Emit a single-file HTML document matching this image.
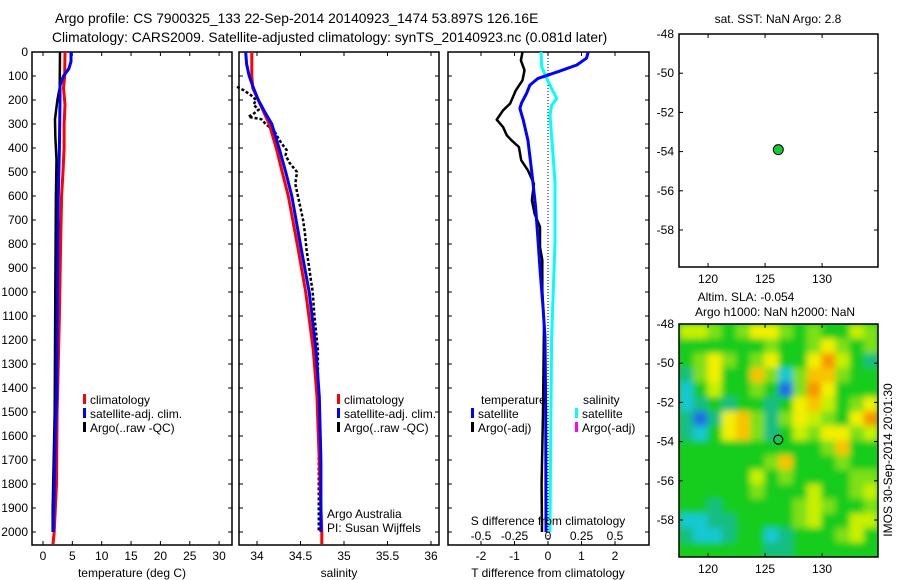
<!DOCTYPE html>
<html><head><meta charset="utf-8"><style>
html,body{margin:0;padding:0;background:#fff;}
svg{display:block;font-family:"Liberation Sans",sans-serif;}
text{fill:#000;}
</style></head><body>
<svg id="fig" width="900" height="580" viewBox="0 0 900 580" xmlns="http://www.w3.org/2000/svg">
<defs>
<filter id="blur" x="-5%" y="-5%" width="110%" height="110%"><feGaussianBlur stdDeviation="3.2" edgeMode="duplicate"/></filter>
<clipPath id="mapclip"><rect x="679" y="324" width="199" height="233"/></clipPath>
</defs>
<text x="55" y="23" font-size="13.8" text-anchor="start">Argo profile: CS 7900325_133 22-Sep-2014 20140923_1474 53.897S 126.16E</text>
<text x="52" y="42" font-size="13.8" text-anchor="start">Climatology: CARS2009. Satellite-adjusted climatology: synTS_20140923.nc (0.081d later)</text>
<g id="layer"></g>
</svg>
<script>
// ---- data ----
const depthTicks=[0,100,200,300,400,500,600,700,800,900,1000,1100,1200,1300,1400,1500,1600,1700,1800,1900,2000];
const tempTicks=[0,5,10,15,20,25,30];
const salTicks=[34,34.5,35,35.5,36];
const salTickLabels=["34","34.5","35","35.5","36"];
const tdiffTicks=[-2,-1,0,1,2];
const sdiffTicks=[-0.5,-0.25,0,0.25,0.5];
const sdiffTickLabels=["-0.5","-0.25","0","0.25","0.5"];
const climT_d=[0,100,150,220,300,400,500,600,800,1100,1400,1500,1800,2000,2050];
const climT=[3.75,3.7,3.5,3.75,3.6,3.6,3.4,3.17,3.0,2.8,2.5,2.4,2.3,1.9,1.7];
const satT_d=[0,40,70,100,140,200,400,600,1000,1400,1600,2000];
const satT=[4.77,4.77,4.4,3.5,2.9,2.9,2.8,2.6,2.45,2.33,2.1,1.76];
const argoT_d=[0,150,200,280,350,450,600,1000,1500,1900,2000];
const argoT=[2.9,2.85,2.45,2.04,2.1,2.3,2.2,2.1,2.0,1.65,1.65];
const climS_d=[0,100,150,200,300,408,500,600,825,1000,1242,1437,1500,2000,2050];
const climS=[33.94,33.94,33.95,34.015,34.14,34.226,34.29,34.36,34.475,34.56,34.647,34.69,34.695,34.745,34.745];
const satS_d=[0,50,100,150,200,250,300,408,500,600,825,1000,1242,1437,1700,2000];
const satS=[33.87,33.88,33.91,33.96,34.015,34.09,34.17,34.26,34.33,34.40,34.51,34.6,34.678,34.716,34.735,34.735];
const argoS_d=[145,160,180,200,220,240,260,270,280,300,330,350,380,408,430,460,500,550,600,650,700,750,825,900,950,1000,1100,1242,1300,1400,1500,1600,1700,1800,1900,2000];
const argoS=[33.77,33.85,33.93,33.99,33.96,34.02,33.95,33.90,34.05,34.10,34.20,34.23,34.28,34.34,34.33,34.37,34.46,34.44,34.47,34.50,34.53,34.55,34.57,34.60,34.62,34.64,34.66,34.70,34.70,34.70,34.71,34.71,34.71,34.71,34.71,34.71];
const satDT_d=[0,26,54,82,110,138,172,213,235,283,367,505,645,783,922,1062,1187,1500,2000];
const satDT=[1.2,1.15,0.86,0.3,-0.3,-0.54,-0.64,-0.79,-0.84,-0.74,-0.6,-0.48,-0.37,-0.3,-0.23,-0.15,-0.09,-0.07,-0.06];
const satDS_d=[0,62,110,165,194,222,264,375,542,792,1195,1600,2000];
const satDS=[-0.052,-0.047,-0.01,0.038,0.065,0.027,0.015,0.03,0.052,0.052,0.027,0.02,0.015];
const argoDT_d=[0,35,76,118,160,215,243,282,313,347,368,396,451,493,549,618,674,729,813,868,993,1132,1500,1800,2000];
const argoDT=[-0.76,-0.81,-0.7,-0.76,-0.96,-1.13,-1.34,-1.53,-1.34,-1.23,-1.09,-0.87,-0.8,-0.6,-0.42,-0.48,-0.4,-0.24,-0.24,-0.17,-0.17,-0.12,-0.15,-0.19,-0.18];
const latTicks=[-48,-50,-52,-54,-56,-58];
const lonTicks=[120,125,130];
const argoLon=126.16, argoLat=-53.9;
const slaGrid=[
[5,5,4,3,4,6,6,4,3,4,3,3,5,4],
[3,3,3,3,3,3,4,3,3,4,6,4,3,4],
[3,4,6,4,3,4,6,3,3,6,8,5,3,2],
[2,4,6,3,3,7,4,1,4,7,7,4,3,3],
[1,3,5,3,3,4,3,0,4,8,6,3,3,3],
[1,2,3,2,3,3,2,3,6,7,5,3,4,6],
[2,0,2,6,7,4,2,4,6,5,4,3,6,8],
[2,1,3,6,7,4,2,3,5,4,6,6,4,5],
[3,3,3,3,3,3,3,3,3,3,4,7,3,3],
[3,3,3,3,3,3,4,7,3,3,3,4,3,3],
[3,3,3,3,3,5,3,4,3,3,3,3,4,4],
[3,3,3,3,3,4,3,3,3,5,3,3,4,5],
[3,3,2,3,3,3,3,3,4,5,4,3,3,4],
[1,1,2,2,3,3,3,3,4,5,3,3,5,5],
[2,1,1,2,3,3,1,2,3,3,3,4,5,3],
[3,3,3,3,3,3,2,2,3,3,3,3,3,3]];
const slaColors=["#1e6ee6","#14c8d2","#14be82","#16cc1e","#7ee014","#c8f000","#f2f000","#f8c400","#f89400"];

// ---- helpers ----
const NS="http://www.w3.org/2000/svg";
const layer=document.getElementById('layer');
function mk(tag,attrs,parent){const e=document.createElementNS(NS,tag);for(const k in attrs)e.setAttribute(k,attrs[k]);(parent||layer).appendChild(e);return e;}
function txt(x,y,s,size,anchor,parent){const t=mk('text',{x:x,y:y,'font-size':size||12,'text-anchor':anchor||'middle'},parent);t.textContent=s;return t;}
const TOP=52,BOT=545;
const yD=d=>TOP+d*0.24;
const P1={l:32,r:232,x:v=>43+v*5.87};
const P2={l:239,r:439,x:v=>257+(v-34)*87};
const P3={l:448,r:649,x:v=>548+v*33.5,xs:v=>548+v*134};

function frame(p,name){
  const g=mk('g',{});
  
  
  mk('rect',{x:p.l,y:TOP,width:p.r-p.l,height:BOT-TOP,fill:'#fff',stroke:'#000','stroke-width':1.5},g);
  depthTicks.forEach(d=>{mk('line',{x1:p.l,x2:p.l+4,y1:yD(d),y2:yD(d),stroke:'#000'},g);mk('line',{x1:p.r,x2:p.r-4,y1:yD(d),y2:yD(d),stroke:'#000'},g);});
  return g;
}
function line(ds,vs,fx,color,w,name,dash){
  const pts=ds.map((d,i)=>fx(vs[i]).toFixed(1)+','+yD(d).toFixed(1)).join(' ');
  const a={points:pts,fill:'none',stroke:color,'stroke-width':w,'stroke-linejoin':'round'};
  if(dash)a['stroke-dasharray']=dash;
  const e=mk('polyline',a);
  
  
  return e;
}
function legendEntry(x,y,color,label,name){
  const g=mk('g',{});
  
  
  mk('rect',{x:x,y:y-10,width:3,height:10,fill:color},g);
  txt(x+7,y,label,12,'start',g);
}

// ---- panel 1: temperature ----
frame(P1,'temperature-panel');
depthTicks.forEach(d=>{const t=txt(28,yD(d)+4,String(d),12,'end');});
tempTicks.forEach(v=>{const x=P1.x(v);mk('line',{x1:x,x2:x,y1:TOP,y2:TOP+4,stroke:'#000'});mk('line',{x1:x,x2:x,y1:BOT,y2:BOT-4,stroke:'#000'});txt(x,560,String(v),12);});
const xl1=txt(132,577,'temperature (deg C)',12);
line(argoT_d,argoT,P1.x,'#000',2.5,'argo-temperature-line');
line(climT_d,climT,P1.x,'#ff0000',3,'climatology-temperature-line');
line(satT_d,satT,P1.x,'#0000ff',3,'satellite-temperature-line');
legendEntry(83,404,'#ff0000','climatology','legend-climatology');
legendEntry(83,418,'#0000ff','satellite-adj. clim.','legend-satellite-adj');
legendEntry(83,432,'#000','Argo(..raw -QC)','legend-argo');

// ---- panel 2: salinity ----
frame(P2,'salinity-panel');
salTicks.forEach((v,i)=>{const x=P2.x(v);mk('line',{x1:x,x2:x,y1:TOP,y2:TOP+4,stroke:'#000'});mk('line',{x1:x,x2:x,y1:BOT,y2:BOT-4,stroke:'#000'});txt(x,560,salTickLabels[i],12);});
const xl2=txt(339,577,'salinity',12);
line(argoS_d,argoS,P2.x,'#000',2.5,'argo-salinity-line','3,2');
line(climS_d,climS,P2.x,'#ff0000',3,'climatology-salinity-line');
line(satS_d,satS,P2.x,'#0000ff',3,'satellite-salinity-line');
legendEntry(337,404,'#ff0000','climatology','legend-climatology-2');
legendEntry(337,418,'#0000ff','satellite-adj. clim.','legend-satellite-adj-2');
legendEntry(337,432,'#000','Argo(..raw -QC)','legend-argo-2');
const n1=txt(327,518,'Argo Australia',12,'start');
const n2=txt(327,532,'PI: Susan Wijffels',12,'start');

// ---- panel 3: differences ----
frame(P3,'difference-panel');
mk('line',{x1:P3.x(0),x2:P3.x(0),y1:TOP,y2:BOT,stroke:'#000','stroke-width':1,'stroke-dasharray':'1,2'});
tdiffTicks.forEach(v=>{const x=P3.x(v);mk('line',{x1:x,x2:x,y1:TOP,y2:TOP+4,stroke:'#000'});mk('line',{x1:x,x2:x,y1:BOT,y2:BOT-4,stroke:'#000'});txt(x,560,String(v),12);});
line(argoDT_d,argoDT,P3.x,'#000',2.5,'argo-t-difference-line');
line(satDS_d,satDS,P3.xs,'#00ffff',3,'satellite-s-difference-line');
line(satDT_d,satDT,P3.x,'#0000ff',3,'satellite-t-difference-line');
sdiffTicks.forEach((v,i)=>{txt(P3.xs(v),540,sdiffTickLabels[i],12);});
const s3=txt(548,525,'S difference from climatology',12);
const xl3=txt(548,577,'T difference from climatology',12);
txt(481,404,'temperature',12,'start');
txt(583,404,'salinity',12,'start');
legendEntry(471,418,'#0000ff','satellite','legend-t-satellite');
legendEntry(471,432,'#000','Argo(-adj)','legend-t-argo');
legendEntry(575,418,'#00ffff','satellite','legend-s-satellite');
legendEntry(575,432,'#ff00ff','Argo(-adj)','legend-s-argo');

// ---- maps ----
function mapFrame(top){
  const M={l:679,r:878,t:top,b:top+233};
  M.x=lon=>M.l+(lon-117.45)*11.4;
  M.y=lat=>M.t+(-48-lat)*19.6;
  return M;
}
function mapAxes(M,g){
  mk('rect',{x:M.l,y:M.t,width:M.r-M.l,height:M.b-M.t,fill:'none',stroke:'#000','stroke-width':1.5},g);
  latTicks.forEach(v=>{const y=M.y(v);mk('line',{x1:M.l,x2:M.l+4,y1:y,y2:y,stroke:'#000'},g);mk('line',{x1:M.r,x2:M.r-4,y1:y,y2:y,stroke:'#000'},g);txt(674,y+4,String(v),12,'end',g);});
  lonTicks.forEach(v=>{const x=M.x(v);mk('line',{x1:x,x2:x,y1:M.t,y2:M.t+4,stroke:'#000'},g);mk('line',{x1:x,x2:x,y1:M.b,y2:M.b-4,stroke:'#000'},g);txt(x,M.b+16,String(v),12,'middle',g);});
}
const MA=mapFrame(34);
const gA=mk('g',{});


mk('rect',{x:MA.l,y:MA.t,width:MA.r-MA.l,height:MA.b-MA.t,fill:'#fff'},gA);
mapAxes(MA,gA);
txt(778,23,'sat. SST: NaN Argo: 2.8',12,'middle',gA);
const dotA=mk('circle',{cx:MA.x(argoLon),cy:MA.y(argoLat),r:5,fill:'#14c83c',stroke:'#000','stroke-width':1},gA);



const MB=mapFrame(324);
const gB=mk('g',{});


const clipG=mk('g',{'clip-path':'url(#mapclip)'},gB);
mk('rect',{x:MB.l,y:MB.t,width:MB.r-MB.l,height:MB.b-MB.t,fill:slaColors[3]},clipG);
const heat=mk('g',{filter:'url(#blur)'},clipG);
const rows=slaGrid.length,cols=slaGrid[0].length;
const cw=(MB.r-MB.l)/cols,ch=(MB.b-MB.t)/rows;
slaGrid.forEach((row,i)=>row.forEach((v,j)=>{
  const c=mk('rect',{x:(MB.l+j*cw).toFixed(2),y:(MB.t+i*ch).toFixed(2),width:(cw+0.6).toFixed(2),height:(ch+0.6).toFixed(2),fill:slaColors[v]},heat);
  
  
}));
mapAxes(MB,gB);
txt(746,301,'Altim. SLA: -0.054',12,'middle',gB);
txt(775,316,'Argo h1000: NaN h2000: NaN',12,'middle',gB);
const dotB=mk('circle',{cx:MB.x(argoLon),cy:MB.y(argoLat),r:4.5,fill:'none',stroke:'#000','stroke-width':1.2},gB);


const st=txt(0,0,'IMOS 30-Sep-2014 20:01:30',12,'middle');
st.setAttribute('transform','translate(892,460) rotate(-90)');


</script>
</body></html>
